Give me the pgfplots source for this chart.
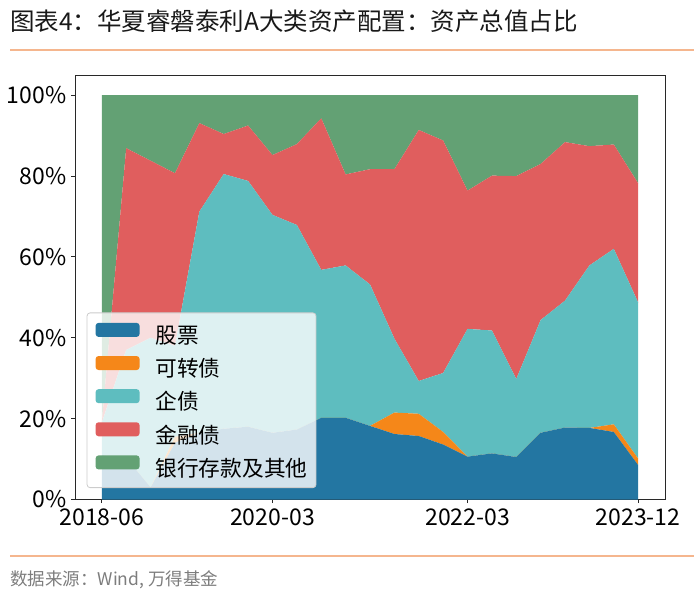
\documentclass[border=0pt]{standalone}
\usepackage{pgfplots}
\pgfplotsset{compat=1.18}
\usepackage{fontspec}
\setmainfont{Noto Sans CJK SC}
\definecolor{cBlue}{RGB}{35,118,162}
\definecolor{cOrange}{RGB}{245,135,25}
\definecolor{cTeal}{RGB}{94,189,191}
\definecolor{cRed}{RGB}{224,94,94}
\definecolor{cGreen}{RGB}{99,161,116}
\definecolor{lineOrange}{RGB}{245,182,142}
\definecolor{srcGray}{RGB}{125,125,125}
\definecolor{frameCol}{RGB}{40,40,40}
\begin{document}
\begin{tikzpicture}
\useasboundingbox (0,0) rectangle (700bp,-598bp);
\node[anchor=base west, inner sep=0pt, font=\fontsize{24.5bp}{28bp}\selectfont, text=black!90] at (10bp,-30bp) {图表4：华夏睿磐泰利A大类资产配置：资产总值占比};
\draw[color=lineOrange, line width=1.5bp] (10bp,-50bp) -- (694bp,-50bp);
\draw[color=lineOrange, line width=1.5bp] (10bp,-556bp) -- (694bp,-556bp);
\node[anchor=base west, inner sep=0pt, font=\fontsize{17.5bp}{21bp}\selectfont, text=srcGray] at (10bp,-585.5bp) {数据来源：Wind, 万得基金};
\begin{axis}[
  at={(75bp,-499.5bp)}, anchor=south west,
  scale only axis, width=590bp, height=424.5bp,
  xmin=-1.1, xmax=23.1, ymin=0, ymax=105,
  stack plots=y,
  axis line style={line width=1bp, color=frameCol},
  tick style={line width=0.9bp, color=frameCol},
  tick align=outside, major tick length=3.5bp,
  xtick pos=bottom, ytick pos=left,
  xtick={0,7,15,22}, xticklabels={2018-06,2020-03,2022-03,2023-12},
  ytick={0,20,40,60,80,100}, yticklabels={0\%,20\%,40\%,60\%,80\%,100\%},
  ticklabel style={font=\fontsize{23bp}{27bp}\selectfont, inner sep=0pt, text=black},
  xticklabel style={yshift=-6bp},
  yticklabel style={xshift=-5bp},
  legend cell align=left,
  legend image code/.code={\fill[#1, fill opacity=1] (0bp,3bp) rectangle (44bp,17bp);},
  legend style={at={(0.0198,0.027)}, anchor=south west, draw=black!20, line width=0.8bp,
    rounded corners=3bp, fill=white, fill opacity=0.8, text opacity=1,
    font=\fontsize{21.7bp}{26bp}\selectfont,
    inner xsep=8.5bp, inner ysep=10bp, row sep=10.9bp, column sep=16bp,
    nodes={inner sep=0pt, text height=0.9em, text depth=0.15em}},
]
\addplot[fill=cBlue, draw=none] coordinates {
(0,11) (1,10.3) (2,3) (3,14) (4,16.5) (5,17.5) (6,18) (7,16.5) (8,17.3) (9,20.2) (10,20.2) (11,18.2)
(12,16.2) (13,15.7) (14,13.6) (15,10.6) (16,11.4) (17,10.5) (18,16.5) (19,17.8) (20,17.7) (21,16.7) (22,8.5)} \closedcycle;
\addlegendentry{股票}
\addplot[fill=cOrange, draw=none] coordinates {
(0,0) (1,0) (2,0) (3,1.5) (4,0) (5,0) (6,0) (7,0) (8,0) (9,0) (10,0) (11,0)
(12,5.3) (13,5.5) (14,3.1) (15,0) (16,0) (17,0) (18,0) (19,0) (20,0) (21,1.9) (22,1.6)} \closedcycle;
\addlegendentry{可转债}
\addplot[fill=cTeal, draw=none] coordinates {
(0,8) (1,26.7) (2,37) (3,22.5) (4,54.7) (5,63) (6,60.8) (7,53.9) (8,50.6) (9,36.6) (10,37.7) (11,35)
(12,18.3) (13,8.1) (14,14.6) (15,31.6) (16,30.4) (17,19.3) (18,27.9) (19,31.4) (20,40.2) (21,43.4) (22,38.6)} \closedcycle;
\addlegendentry{企债}
\addplot[fill=cRed, draw=none] coordinates {
(0,0) (1,49.9) (2,43.8) (3,42.7) (4,21.9) (5,9.9) (6,13.7) (7,14.8) (8,20) (9,37.5) (10,22.5) (11,28.5)
(12,41.9) (13,62.1) (14,57.5) (15,34.2) (16,38.3) (17,50.2) (18,38.6) (19,39.2) (20,29.5) (21,25.8) (22,29.5)} \closedcycle;
\addlegendentry{金融债}
\addplot[fill=cGreen, draw=none] coordinates {
(0,81) (1,13.1) (2,16.2) (3,19.3) (4,6.9) (5,9.6) (6,7.5) (7,14.8) (8,12.1) (9,5.7) (10,19.6) (11,18.3)
(12,18.3) (13,8.6) (14,11.2) (15,23.6) (16,19.9) (17,20) (18,17) (19,11.6) (20,12.6) (21,12.2) (22,21.8)} \closedcycle;
\addlegendentry{银行存款及其他}
\end{axis}
\end{tikzpicture}
\end{document}
